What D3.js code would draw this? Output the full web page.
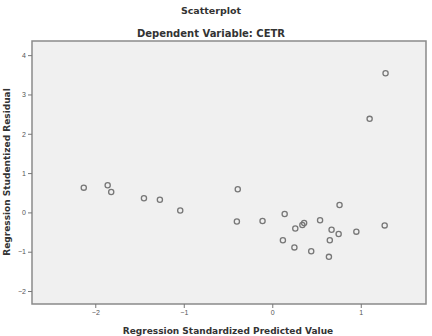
<!DOCTYPE html>
<html>
<head>
<meta charset="utf-8">
<script src="https://cdn.jsdelivr.net/npm/d3@7"></script>
<style>
  body { margin: 0; background: #fff; }
  text { font-family: "Liberation Sans", Arial, sans-serif; }
  .lbl { font-family: "DejaVu Sans", sans-serif; font-weight: bold; fill: #333; }
</style>
</head>
<body>
<div id="chart"></div>
<script>
// predicted value (x) and studentized residual (y)
var predicted = [-2.13, -1.86, -1.82, -1.45, -1.27, -1.04, -0.39, -0.40, -0.11, 0.14,
                 0.12, 0.26, 0.34, 0.36, 0.25, 0.44, 0.54, 0.67, 0.65, 0.64,
                 0.75, 0.76, 0.95, 1.27, 1.10, 1.28];
var residual = [0.63, 0.69, 0.52, 0.36, 0.32, 0.05, 0.59, -0.23, -0.22, -0.04,
                -0.71, -0.41, -0.32, -0.27, -0.89, -0.99, -0.20, -0.44, -0.71, -1.13,
                -0.55, 0.19, -0.49, -0.33, 2.38, 3.54];
var xTicks = [-2, -1, 0, 1];
var yTicks = [-2, -1, 0, 1, 2, 3, 4];

var W = 432, H = 336;
var margin = {top: 41, right: 6, bottom: 32, left: 32};
var width = W - margin.left - margin.right;
var height = H - margin.top - margin.bottom;

var svg = d3.select("#chart").append("svg")
    .attr("width", W)
    .attr("height", H);

var g = svg.append("g")
    .attr("transform", "translate(" + margin.left + "," + margin.top + ")");

var x = d3.scaleLinear().domain([-2.715, 1.737]).range([0, width]);
var y = d3.scaleLinear().domain([-2.33, 4.36]).range([height, 0]);

// plot area
g.append("rect")
    .attr("width", width)
    .attr("height", height)
    .style("fill", "#f0f0f0")
    .style("stroke", "#8a8a8a")
    .style("stroke-width", 1.5);

// axes
var xAxis = g.append("g")
    .attr("transform", "translate(0," + height + ")")
    .call(d3.axisBottom(x).tickValues(xTicks).tickSize(4).tickPadding(2).tickFormat(d3.format("d")));
var yAxis = g.append("g")
    .call(d3.axisLeft(y).tickValues(yTicks).tickSize(4).tickPadding(2).tickFormat(d3.format("d")));

[xAxis, yAxis].forEach(function(a) {
    a.select(".domain").remove();
    a.selectAll(".tick line").style("stroke", "#777");
    a.selectAll(".tick text")
        .style("fill", "#555")
        .style("font-size", "7px")
        .style("font-family", "'Liberation Sans', Arial, sans-serif");
});

// points
var pts = predicted.map(function(d, i) { return {x: d, y: residual[i]}; });
g.selectAll("circle.pt")
    .data(pts)
    .enter().append("circle")
    .attr("class", "pt")
    .attr("cx", function(d) { return x(d.x); })
    .attr("cy", function(d) { return y(d.y); })
    .attr("r", 2.6)
    .style("fill", "none")
    .style("stroke", "#777")
    .style("stroke-width", 1.3);

// titles
svg.append("text").attr("class", "lbl")
    .attr("x", 211).attr("y", 14)
    .attr("text-anchor", "middle")
    .style("font-size", "9.5px")
    .text("Scatterplot");
svg.append("text").attr("class", "lbl")
    .attr("x", 211).attr("y", 37)
    .attr("text-anchor", "middle")
    .style("font-size", "10px")
    .text("Dependent Variable: CETR");

svg.append("text").attr("class", "lbl")
    .attr("x", 228).attr("y", 334)
    .attr("text-anchor", "middle")
    .style("font-size", "9px")
    .text("Regression Standardized Predicted Value");

svg.append("text").attr("class", "lbl")
    .attr("transform", "translate(10,172) rotate(-90)")
    .attr("text-anchor", "middle")
    .style("font-size", "9px")
    .text("Regression Studentized Residual");
</script>
</body>
</html>
